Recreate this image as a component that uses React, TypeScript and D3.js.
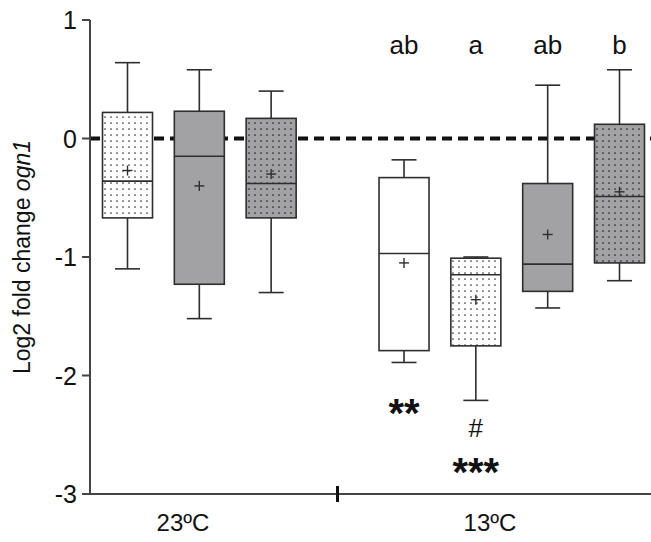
import React from "react";
import * as d3 from "d3";

// ---- data ----
const groups = ["23ºC", "13ºC"];
const boxGroup = [0, 0, 0, 1, 1, 1, 1];
const boxFill = ["white", "gray", "gray", "white", "white", "gray", "gray"];
const boxDotted = [true, false, true, false, true, false, true];
const whiskerHigh = [0.64, 0.58, 0.4, -0.18, -1.0, 0.45, 0.58];
const q3 = [0.22, 0.23, 0.17, -0.33, -1.01, -0.38, 0.12];
const median = [-0.36, -0.15, -0.38, -0.97, -1.15, -1.06, -0.49];
const q1 = [-0.67, -1.23, -0.67, -1.79, -1.75, -1.29, -1.05];
const whiskerLow = [-1.1, -1.52, -1.3, -1.89, -2.21, -1.43, -1.2];
const means = [-0.27, -0.4, -0.3, -1.05, -1.36, -0.81, -0.45];
const letters = ["", "", "", "ab", "a", "ab", "b"];
const yTicks = [1, 0, -1, -2, -3];

const W = 651;
const H = 542;
const FONT = "'Liberation Sans', Arial, sans-serif";

export default function App() {
  const y = d3.scaleLinear().domain([-3, 1]).range([494, 20]);
  // slot position: index within all boxes plus extra gap between groups
  const slot = (i: number) => i + (boxGroup[i] === 1 ? 0.85 : 0);
  const x = d3.scaleLinear().domain([0, 6.85]).range([127.5, 619.5]);
  const bw = 50;
  const cap = 25;
  const stroke = "#2e2e2e";
  const gray = "#a2a2a4";

  return (
    <svg
      width={W}
      height={H}
      style={{ position: "absolute", left: 0, top: 0, background: "white" }}
      fontFamily={FONT}
    >
      <defs>
        <pattern id="dotsW" width={6} height={6} patternUnits="userSpaceOnUse">
          <rect width={6} height={6} fill="white" />
          <circle cx={3} cy={3} r={0.85} fill="#333" />
        </pattern>
        <pattern id="dotsG" width={6} height={6} patternUnits="userSpaceOnUse">
          <rect width={6} height={6} fill={gray} />
          <circle cx={3} cy={3} r={0.85} fill="#222" />
        </pattern>
      </defs>

      {/* zero dashed line */}
      <line
        x1={90}
        x2={W}
        y1={y(0)}
        y2={y(0)}
        stroke="#111"
        strokeWidth={4}
        strokeDasharray="10 6"
      />

      {/* boxes */}
      {whiskerHigh.map((_, i) => {
        const cx = x(slot(i));
        const fill = boxDotted[i]
          ? boxFill[i] === "gray"
            ? "url(#dotsG)"
            : "url(#dotsW)"
          : boxFill[i] === "gray"
          ? gray
          : "white";
        return (
          <g key={i} stroke={stroke} strokeWidth={1.6}>
            <line x1={cx} x2={cx} y1={y(whiskerHigh[i])} y2={y(q3[i])} />
            <line x1={cx} x2={cx} y1={y(q1[i])} y2={y(whiskerLow[i])} />
            <line x1={cx - cap / 2} x2={cx + cap / 2} y1={y(whiskerHigh[i])} y2={y(whiskerHigh[i])} />
            <line x1={cx - cap / 2} x2={cx + cap / 2} y1={y(whiskerLow[i])} y2={y(whiskerLow[i])} />
            <rect
              x={cx - bw / 2}
              y={y(q3[i])}
              width={bw}
              height={y(q1[i]) - y(q3[i])}
              fill={fill}
            />
            <line x1={cx - bw / 2} x2={cx + bw / 2} y1={y(median[i])} y2={y(median[i])} />
            <line x1={cx - 5} x2={cx + 5} y1={y(means[i])} y2={y(means[i])} strokeWidth={1.4} />
            <line x1={cx} x2={cx} y1={y(means[i]) - 5} y2={y(means[i]) + 5} strokeWidth={1.4} />
            {letters[i] && (
              <text
                x={cx}
                y={54}
                textAnchor="middle"
                fontSize={26}
                fill="#111"
                stroke="none"
              >
                {letters[i]}
              </text>
            )}
          </g>
        );
      })}

      {/* y axis */}
      <line x1={90} x2={90} y1={y(1)} y2={y(-3)} stroke="#444" strokeWidth={2} />
      {yTicks.map((t) => (
        <g key={t}>
          <line x1={82} x2={90} y1={y(t)} y2={y(t)} stroke="#444" strokeWidth={2} />
          <text
            x={77}
            y={y(t)}
            dy="0.36em"
            textAnchor="end"
            fontSize={25}
            fill="#111"
          >
            {t < 0 ? "-" + Math.abs(t) : String(t)}
          </text>
        </g>
      ))}

      {/* x axis */}
      <line x1={90} x2={W} y1={y(-3)} y2={y(-3)} stroke="#444" strokeWidth={2} />
      <line x1={337.5} x2={337.5} y1={y(-3) - 8} y2={y(-3) + 8} stroke="#111" strokeWidth={3} />
      <text x={183} y={531} textAnchor="middle" fontSize={24} fill="#111">
        {groups[0]}
      </text>
      <text x={490} y={531} textAnchor="middle" fontSize={24} fill="#111">
        {groups[1]}
      </text>

      {/* y axis title */}
      <text
        transform={`translate(30,${y(-1)}) rotate(-90)`}
        textAnchor="middle"
        fontSize={23}
        fill="#111"
      >
        Log2 fold change <tspan fontStyle="italic">ogn1</tspan>
      </text>

      {/* significance annotations */}
      <text x={x(slot(3))} y={427} textAnchor="middle" fontSize={40} fontWeight="bold" fill="#111">
        **
      </text>
      <text x={x(slot(4))} y={437} textAnchor="middle" fontSize={26} fill="#111">
        #
      </text>
      <text x={x(slot(4))} y={486} textAnchor="middle" fontSize={40} fontWeight="bold" fill="#111">
        ***
      </text>
    </svg>
  );
}
